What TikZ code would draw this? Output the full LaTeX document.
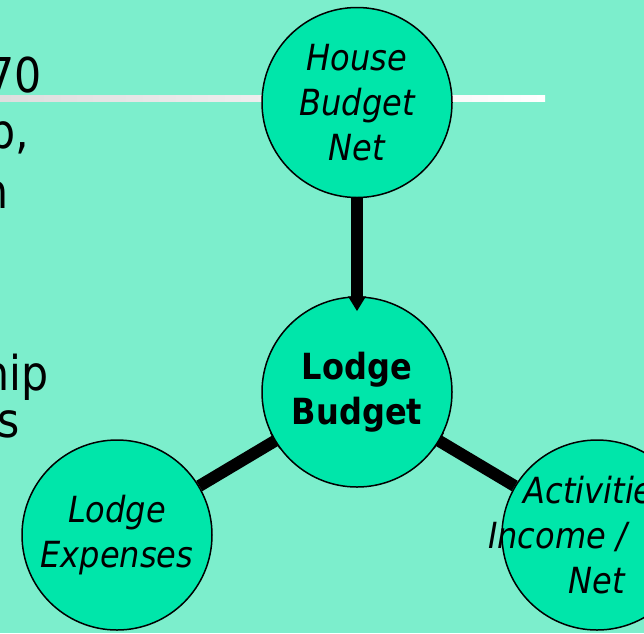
\documentclass[tikz,border=0pt]{standalone}
\usepackage{fontspec}
\setmainfont{DejaVu Sans}[FakeStretch=0.89]
\usetikzlibrary{positioning,arrows.meta,backgrounds}
\definecolor{slidebg}{RGB}{124,238,204}
\definecolor{bubble}{RGB}{0,230,170}

\begin{document}
\begin{tikzpicture}[x=1pt, y=-1pt,
        bubblenode/.style={circle, draw=black, fill=bubble, line width=1.5pt, minimum size=190pt, inner sep=0pt, align=center},
        budgetnode/.style={bubblenode, font=\fontsize{36}{45}\selectfont\bfseries},
        sourcenode/.style={bubblenode, font=\fontsize{36}{45}\selectfont\itshape},
        slidetext/.style={anchor=base east, inner sep=0pt, font=\fontsize{48}{58}\selectfont},
        feedarrow/.style={line width=12pt, -{Triangle[length=15pt, width=17pt]}, shorten >=-15pt},
        ]
        \useasboundingbox (0,0) rectangle (644,633);
        %Nodes
        \node[budgetnode] (budget) at (357,392) {Lodge\\Budget};
        \node[sourcenode] [above= 98pt of budget] (house) {House\\Budget\\Net};
        \node[sourcenode] (expenses) at ([shift={(-240,143)}]budget.center) {Lodge\\Expenses};
        \node[sourcenode] (activities) at ([shift={(240,143)}]budget.center) {Activities\\\hspace*{-79pt}Income /\\Net};

        \node[slidetext] (s0) at (42,92) {70};
        \node[slidetext] (s1) at (29,148) {p,};
        \node[slidetext] (s2) at (9,208) {n};
        \node[slidetext] (s3) at (49,390) {hip};
        \node[slidetext] (s4) at (20,437) {s};

        \begin{scope}[on background layer]
        \fill[slidebg] (0,0) rectangle (644,633);
        \fill[left color=black!13, middle color=white, right color=white] (0,95) rectangle (545,101);
        \draw[feedarrow] (expenses) -- (budget);
        \draw[feedarrow] (activities) -- (budget);
        \end{scope}

        \draw[feedarrow] (house) -- (budget);
        %Lines
    \end{tikzpicture}
\end{document}
